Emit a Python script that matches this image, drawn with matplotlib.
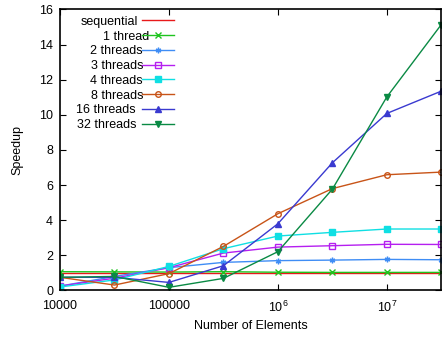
import matplotlib as mpl
import matplotlib.pyplot as plt
import matplotlib.ticker as mticker
import numpy as np

mpl.rc('font', family='Liberation Sans', size=9)
mpl.rcParams['mathtext.fontset'] = 'custom'
mpl.rcParams['mathtext.rm'] = 'Liberation Sans'
mpl.rcParams['mathtext.it'] = 'Liberation Sans'

# data
n_elements = [10000, 31623, 100000, 316228, 1000000, 3162278, 10000000, 31622777]
labels = ['sequential', '1 thread', '2 threads', '3 threads', '4 threads',
          '8 threads', '16 threads', '32 threads']
speedup = [
    [1.0, 1.0, 1.0, 1.0, 1.0, 1.0, 1.0, 1.0],
    [1.07, 1.06, 1.05, 1.07, 1.04, 1.03, 1.03, 1.03],
    [0.25, 0.8, 1.3, 1.6, 1.7, 1.73, 1.77, 1.75],
    [0.25, 0.7, 1.3, 2.13, 2.47, 2.55, 2.63, 2.62],
    [0.2, 0.6, 1.37, 2.38, 3.1, 3.31, 3.5, 3.5],
    [0.75, 0.31, 0.96, 2.51, 4.37, 5.8, 6.59, 6.74],
    [0.75, 0.75, 0.46, 1.41, 3.8, 7.27, 10.08, 11.35],
    [0.75, 0.8, 0.18, 0.69, 2.21, 5.77, 11.02, 15.14],
]
colors = ['#e8191a', '#1fc41f', '#3f8df5', '#b51ff0', '#0fdfe3',
          '#c85418', '#3a3ad0', '#0a8a44']
markers = [None, 'x', (6, 2, 0), 's', 's', 'o', '^', 'v']
filled = [True, True, True, False, True, False, True, True]

fig = plt.figure(figsize=(4.46, 3.37), dpi=100)
ax = fig.add_axes([0.1345, 0.138, 0.855, 0.834])

for i in range(len(labels)):
    ax.plot(n_elements, speedup[i], color=colors[i], marker=markers[i],
            markersize=4, markeredgewidth=1, linewidth=1,
            markerfacecolor=colors[i] if filled[i] else 'none',
            label=labels[i])

ax.set_xscale('log')
ax.set_xlim(10000, 31622777)
ax.set_ylim(0, 16)
ax.set_yticks(np.arange(0, 17, 2))
ax.set_xticks([1e4, 1e5, 1e6, 1e7])
ax.xaxis.set_minor_locator(mticker.NullLocator())
xt = {1e4: '10000', 1e5: '100000', 1e6: r'$10^6$', 1e7: r'$10^7$'}
ax.xaxis.set_major_formatter(mticker.FuncFormatter(lambda v, p: xt.get(v, '')))
ax.tick_params(direction='in', top=True, right=True, length=4, width=0.8,
               labelsize=9)
ax.tick_params(axis='x', pad=7)
ax.tick_params(axis='y', pad=5)
for sp in ax.spines.values():
    sp.set_linewidth(1.2)

ax.set_xlabel('Number of Elements', fontsize=9, labelpad=3)
ax.set_ylabel('Speedup', fontsize=9, labelpad=11)

leg = ax.legend(loc='upper left', markerfirst=False, frameon=False,
                fontsize=9, handlelength=2.5, labelspacing=0.22,
                handletextpad=0.5, bbox_to_anchor=(0.03, 0.995),
                borderaxespad=0)
fig.canvas.draw()
renderer = fig.canvas.get_renderer()
widths = [t.get_window_extent(renderer).width for t in leg.get_texts()]
shift = max(widths)
for t, w in zip(leg.get_texts(), widths):
    t.set_position((shift - w, 0))

fig.savefig('out.png', dpi=100)
